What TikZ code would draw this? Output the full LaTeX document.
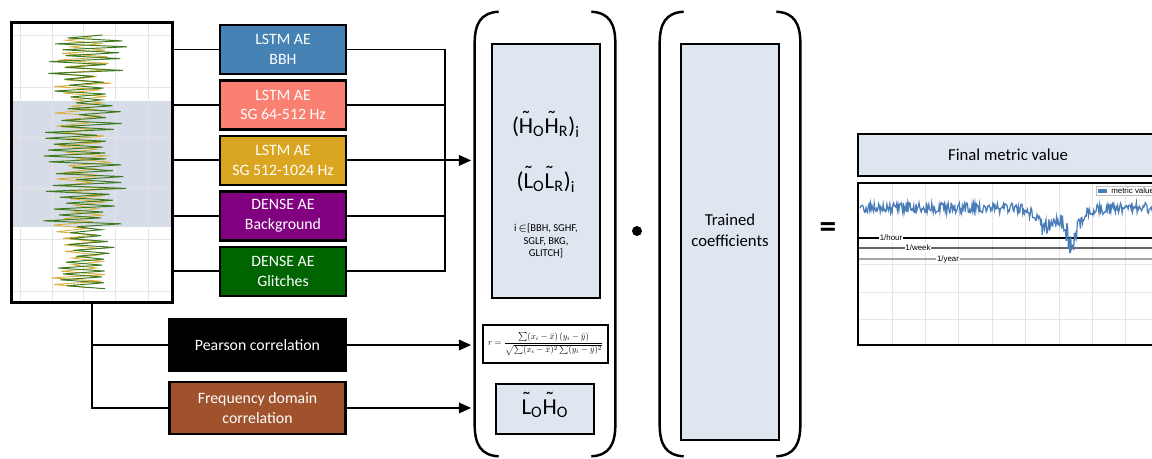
\documentclass[tikz,border=0pt]{standalone}
\usepackage{fontspec}
\setmainfont{Carlito}
\newfontfamily\chartfont{Liberation Sans}
\usepackage{amsmath}
\usepackage{graphicx}
\usetikzlibrary{arrows.meta, positioning, calc}
\definecolor{bbhblue}{HTML}{4682B4}
\definecolor{sglow}{HTML}{FA8072}
\definecolor{sghigh}{HTML}{DAA520}
\definecolor{bkgpurple}{HTML}{800080}
\definecolor{glitchgreen}{HTML}{006400}
\definecolor{freqbrown}{HTML}{A0522D}
\definecolor{panelfill}{HTML}{DEE6F0}
\definecolor{bandfill}{HTML}{D6DDE9}
\definecolor{siggreen}{HTML}{3F7A22}
\definecolor{sigyellow}{HTML}{D9AE3C}
\definecolor{metricblue}{HTML}{4A7DB8}
\tikzset{
    model/.style = {rectangle, draw, line width=1.4pt, text=white, align=center, minimum width=2.52cm, minimum height=0.98cm, font=\fontsize{9}{11}\selectfont},
    corr/.style = {model, minimum width=3.52cm, minimum height=1.04cm},
    panel/.style = {rectangle, draw, line width=1.2pt, fill=panelfill, align=center},
    bracketgrp/.style = {rectangle, minimum width=2.8cm, minimum height=8.88cm},
    line/.style = {draw, line width=1.1pt},
    arrowline/.style = {draw, line width=1.1pt, -{Triangle[length=7pt, width=6pt]}, shorten >=2pt},
    paren/.style = {draw, line width=1.4pt},
    gridline/.style = {draw, black!10, line width=0.4pt},
    chartlbl/.style = {fill=white, inner sep=0.4pt, font=\chartfont\fontsize{4.5}{5}\selectfont}
}
% letter with a tilde on top
\newcommand{\tld}[1]{{\ooalign{#1\cr\hidewidth\raisebox{0.3em}{\char"02DC}\hidewidth\cr}}}
% round brackets around a group node
\newcommand{\parens}[1]{%
  \path[paren] ($(#1.north west)+(24,0)$) .. controls ($(#1.north west)+(6,1)$) and ($(#1.north west)+(0,12)$) .. ($(#1.north west)+(0,32)$)
    -- ($(#1.south west)+(0,-32)$) .. controls ($(#1.south west)+(0,-12)$) and ($(#1.south west)+(6,-1)$) .. ($(#1.south west)+(24,0)$);
  \path[paren] ($(#1.north east)+(-24,0)$) .. controls ($(#1.north east)+(-6,1)$) and ($(#1.north east)+(0,12)$) .. ($(#1.north east)+(0,32)$)
    -- ($(#1.south east)+(0,-32)$) .. controls ($(#1.south east)+(0,-12)$) and ($(#1.south east)+(-6,-1)$) .. ($(#1.south east)+(-24,0)$);
}
\begin{document}
\begin{tikzpicture}[x=0.02cm, y=-0.02cm, node distance=0.08cm]
        \clip (0,0) rectangle (1152,458);

        % Input signal plot
        \fill[bandfill] (12,101) rectangle (172,227);
        \foreach \gx in {20,52,83,115,148} \path[gridline] (\gx,23) -- (\gx,302);
        \foreach \gy in {35,87,137,188,239,291} \path[gridline] (12,\gy) -- (172,\gy);
        \pgfmathsetseed{7}
        \draw[sigyellow, line width=0.5pt] plot[variable=\k, domain=0:76, samples=77]
            ({82+5*sin(23*\k)+(1-2*mod(round(\k),2))*((37+3.3*\k<228) ? 30 : 24)*(0.3+0.7*rnd)+5*rand}, {37+3.3*\k});
        \draw[siggreen, line width=0.55pt] plot[variable=\k, domain=0:86, samples=87]
            ({87+6*sin(17*\k)+(1-2*mod(round(\k),2))*((35+2.95*\k<228) ? 42 : 28)*(0.3+0.7*rnd)+6*rand}, {35+2.95*\k});
        \node [draw, line width=1.3pt, minimum width=3.22cm, minimum height=5.6cm] (sig) at (92,162.5) {};

        % Autoencoders
        \node [model, fill=bbhblue] (bbh) at (283,49.5) {LSTM AE\\BBH};
        \node [model, fill=sglow, below=of bbh] (sglf) {LSTM AE\\SG 64-512 Hz};
        \node [model, fill=sghigh, below=of sglf] (sghf) {LSTM AE\\SG 512-1024 Hz};
        \node [model, fill=bkgpurple, below=of sghf] (bkg) {DENSE AE\\Background};
        \node [model, fill=glitchgreen, below=of bkg] (glitch) {DENSE AE\\Glitches};

        % Correlations
        \node [corr, fill=black] (pear) at (257.5,345) {Pearson correlation};
        \node [corr, fill=freqbrown, below=0.17cm of pear] (freq) {Frequency domain\\correlation};

        % Feature vector
        \node [bracketgrp] (vec) at (545,234) {};
        \parens{vec}
        \node [panel, minimum width=2.16cm, minimum height=5.08cm] (ae) at (546,171) {};
        \node [font=\fontsize{13}{15}\selectfont] (hh) at (546,127) {(\tld{H}\textsubscript{O}\tld{H}\textsubscript{R})\textsubscript{i}};
        \node [font=\fontsize{13}{15}\selectfont] (ll) at (546,182) {(\tld{L}\textsubscript{O}\tld{L}\textsubscript{R})\textsubscript{i}};
        \node [font=\fontsize{6}{7.2}\selectfont, align=center] (idx) at (546,241) {i\,$\in$[BBH, SGHF,\\SGLF, BKG,\\GLITCH]};
        \node [draw, line width=1.2pt, fill=white, minimum width=2.5cm, minimum height=0.76cm, inner sep=0pt] (pearf) at (545.5,344)
            {\resizebox{2.3cm}{!}{$\displaystyle r=\frac{\sum(x_i-\bar{x})\,(y_i-\bar{y})}{\sqrt{\sum(x_i-\bar{x})^2\sum(y_i-\bar{y})^2}}$}};
        \node [panel, minimum width=1.96cm, minimum height=1.0cm, font=\fontsize{13}{15}\selectfont] (lh) at (545,409) {\tld{L}\textsubscript{O}\tld{H}\textsubscript{O}};

        % Product
        \node [circle, fill=black, inner sep=0pt, minimum size=0.2cm] (dot) at (637,231) {};

        % Coefficients
        \node [bracketgrp] (wts) at (730,234) {};
        \parens{wts}
        \node [panel, minimum width=1.96cm, minimum height=7.92cm] (coef) at (730,242) {};
        \node [font=\fontsize{9.5}{12}\selectfont, align=center] (coeftxt) at ([yshift=0.24cm]coef.center) {Trained\\coefficients};

        % Result
        \node [font=\fontsize{19}{19}\selectfont\bfseries] (eq) at (828,230) {=};
        \node [panel, minimum width=6cm, minimum height=0.84cm, font=\fontsize{9.5}{11}\selectfont] (final) at (1008,155) {Final metric value};
        \foreach \k in {0,...,7} \path[gridline] (892+33.4*\k,184) -- (892+33.4*\k,345);
        \foreach \gy in {264,292,319} \path[gridline] (859,\gy) -- (1158,\gy);
        \draw[black, line width=0.6pt] (859,238) -- (1158,238);
        \draw[black!60, line width=0.6pt] (859,248) -- (1158,248);
        \draw[black!35, line width=0.6pt] (859,259) -- (1158,259);
        \node [chartlbl] (hourlbl) at (891,238) {1/hour};
        \node [chartlbl] (weeklbl) at (918,248) {1/week};
        \node [chartlbl] (yearlbl) at (948,259) {1/year};
        \pgfmathsetseed{11}
        \draw[metricblue, line width=0.7pt] plot[variable=\t, domain=860:1158, samples=400]
            (\t, {208 + (5.5 + 8*exp(-((\t-1072)/9)^2) + 3*exp(-((\t-1044)/10)^2))*rand + 14*exp(-((\t-1044)/10)^2) + 30*exp(-((\t-1072)/7)^2) + 9*exp(-((\t-1062)/28)^2)});
        \node [draw=black!25, fill=white, inner sep=1pt, anchor=north west, font=\chartfont\fontsize{4.5}{5}\selectfont] (legend) at (1096,186)
            {\textcolor{metricblue}{\rule[0.5pt]{5pt}{2pt}}~~metric value};
        \node [draw, line width=1.6pt, minimum width=6cm, minimum height=3.24cm] (chart) at (1008,264) {};

        % Arrows
        \foreach \n in {bbh, sglf, sghf, bkg, glitch} \path [line] (\n.west -| sig.east) -- (\n.west);
        \coordinate (merge) at ($(sghf.east)+(98,0)$);
        \foreach \n in {bbh, sglf, bkg, glitch} \path [line] (\n.east) -| (merge);
        \path [arrowline] (sghf.east) -- (sghf.east -| vec.west);
        \path [line] (sig.south) |- (pear.west);
        \path [line] (sig.south) |- (freq.west);
        \path [arrowline] (pear.east) -- (pear.east -| vec.west);
        \path [arrowline] (freq.east) -- (freq.east -| vec.west);

\end{tikzpicture}
\end{document}
